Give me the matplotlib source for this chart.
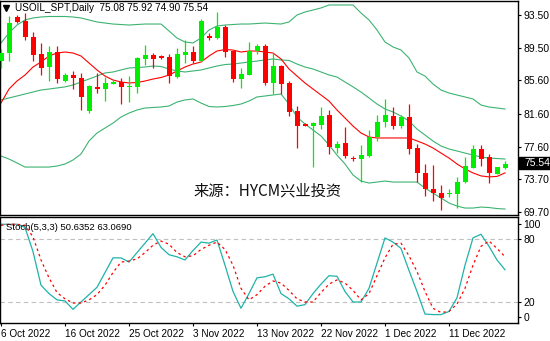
import matplotlib
matplotlib.use("Agg")
import matplotlib.pyplot as plt
import numpy as np
from matplotlib.patches import Rectangle

plt.rcParams['font.family'] = ['Liberation Sans', 'DejaVu Sans']

# 日足ローソク (6 Oct 2022 - 19 Dec 2022)
opens = [87.98, 88.95, 93.30, 92.78, 90.88, 88.79, 87.26, 88.99, 85.53, 86.25,
         85.93, 81.94, 84.84, 84.56, 85.13, 85.44, 84.84, 84.84, 88.19, 88.67,
         88.55, 88.39, 86.05, 88.67, 89.07, 87.98, 91.00, 90.76, 92.09, 89.15,
         85.77, 86.25, 89.15, 89.76, 85.32, 87.38, 85.32, 81.91, 80.34, 80.13,
         80.21, 81.42, 77.47, 78.00, 76.19, 76.07, 76.47, 78.73, 80.54, 81.30,
         80.09, 81.14, 77.47, 74.45, 72.49, 72.04, 71.85, 71.85, 73.37, 75.06,
         77.32, 76.31, 74.30, 75.08]
highs = [89.39, 93.38, 93.50, 93.70, 91.41, 90.12, 89.76, 89.76, 86.46, 86.74,
         86.53, 85.05, 86.53, 86.05, 85.65, 85.93, 86.13, 88.46, 89.88, 88.87,
         88.67, 88.75, 89.55, 90.48, 89.79, 92.98, 91.29, 93.83, 92.29, 89.27,
         87.06, 90.20, 89.96, 89.96, 88.87, 87.50, 85.53, 82.51, 80.40, 80.61,
         82.43, 82.03, 78.28, 80.01, 76.47, 77.80, 79.61, 81.42, 83.36, 82.35,
         81.40, 82.75, 77.92, 75.47, 75.38, 72.97, 72.45, 73.97, 76.39, 77.80,
         77.80, 76.68, 75.18, 75.92]
lows = [87.10, 87.98, 92.53, 90.48, 87.94, 86.25, 85.57, 85.25, 85.44, 84.56,
        82.03, 81.70, 84.12, 83.15, 85.13, 82.71, 83.03, 84.12, 87.46, 87.14,
        88.22, 85.32, 85.86, 87.67, 87.74, 87.79, 90.48, 90.60, 88.46, 85.44,
        84.65, 86.25, 88.75, 85.05, 83.96, 83.96, 81.34, 77.47, 80.10, 75.18,
        79.73, 76.71, 76.87, 76.19, 75.87, 73.37, 76.40, 78.32, 79.94, 79.69,
        79.89, 76.71, 73.37, 71.64, 71.04, 69.95, 71.56, 70.15, 73.17, 75.00,
        75.30, 73.25, 74.30, 74.90]
closes = [88.95, 92.50, 92.69, 90.81, 88.67, 87.14, 89.07, 85.77, 86.25, 85.93,
          83.63, 84.93, 84.56, 85.32, 85.44, 84.84, 84.96, 88.34, 88.67, 88.19,
          88.34, 86.17, 88.79, 88.99, 87.94, 92.78, 90.69, 92.09, 89.07, 85.77,
          86.37, 89.15, 89.76, 85.32, 87.38, 85.17, 81.82, 80.09, 80.13, 80.42,
          81.30, 77.52, 77.92, 76.47, 76.07, 76.59, 78.73, 80.54, 81.42, 80.13,
          81.22, 77.32, 74.45, 72.49, 71.97, 71.36, 71.97, 73.37, 75.26, 77.32,
          76.11, 74.45, 75.18, 75.54]

# ボリンジャーバンド・移動平均
bb_upper = [90.12, 91.33, 92.29, 92.90, 93.14, 93.26, 93.32, 93.32, 93.32, 93.26,
            93.14, 92.90, 92.66, 92.53, 92.41, 92.35, 92.29, 92.35, 92.41, 92.41,
            92.41, 91.57, 90.72, 90.24, 90.12, 90.72, 91.69, 92.17, 92.29, 92.35,
            92.41, 92.41, 92.47, 92.53, 92.47, 92.41, 92.66, 93.50, 93.86, 94.10,
            94.35, 94.71, 94.71, 94.71, 94.71, 93.74, 92.90, 91.69, 90.24, 89.64,
            89.27, 88.31, 86.62, 86.13, 85.17, 84.44, 84.08, 83.84, 83.60, 83.36,
            82.63, 82.39, 82.27, 82.15]
bb_mid = [83.24, 83.48, 83.72, 83.96, 84.20, 84.44, 84.56, 84.69, 84.82, 85.05,
          85.41, 85.77, 86.13, 86.50, 86.62, 86.86, 87.10, 87.16, 87.22, 87.34,
          87.28, 86.98, 86.74, 86.62, 86.74, 86.86, 87.10, 87.34, 87.52, 87.58,
          87.70, 87.82, 87.94, 88.07, 88.19, 88.07, 88.01, 87.58, 87.22, 86.98,
          86.62, 86.26, 86.01, 85.41, 84.82, 84.20, 83.48, 82.75, 82.15, 81.79,
          81.30, 80.70, 79.73, 79.01, 78.28, 77.68, 77.32, 77.08, 76.83, 76.59,
          76.35, 76.23, 76.17, 76.11]
bb_lower = [76.47, 76.11, 75.63, 75.14, 75.14, 75.14, 75.14, 75.26, 75.51, 75.99,
            76.71, 78.28, 79.25, 79.85, 80.45, 81.18, 81.66, 82.03, 82.27, 82.33,
            82.39, 82.51, 82.99, 83.24, 83.36, 82.87, 82.45, 82.39, 82.45, 82.57,
            82.75, 83.11, 83.60, 83.72, 83.84, 83.96, 82.75, 81.18, 80.34, 79.61,
            78.89, 77.80, 76.59, 75.51, 74.18, 73.45, 73.21, 73.33, 73.45, 73.33,
            73.33, 73.33, 73.33, 72.61, 72.00, 71.40, 70.80, 70.43, 70.19, 70.19,
            70.31, 70.25, 70.13, 70.07]
ma_red = [82.87, 84.56, 85.53, 86.25, 87.22, 87.82, 88.55, 88.91, 89.03, 88.91,
          88.55, 87.70, 86.86, 86.13, 85.65, 85.41, 85.29, 85.35, 85.53, 85.77,
          85.95, 86.25, 86.74, 87.22, 87.58, 87.82, 88.55, 89.15, 89.33, 89.27,
          89.03, 89.15, 89.15, 89.03, 88.91, 88.19, 86.98, 86.13, 85.29, 84.56,
          83.84, 83.11, 82.03, 81.06, 80.09, 79.25, 78.77, 78.65, 78.65, 78.65,
          78.65, 78.65, 78.30, 77.92, 77.44, 76.83, 76.23, 75.51, 74.91, 74.43,
          74.07, 73.95, 74.01, 74.43]

# ストキャスティクス(5,3,3)
stoch_k = [94, 94, 94, 91, 68, 36, 28, 22, 21, 13,
           20, 27, 34, 48, 62, 62, 58, 67, 76, 85,
           72, 65, 63, 60, 69, 77, 76, 79, 55, 30,
           14, 28, 43, 44, 46.5, 28, 23, 16, 17.5, 28,
           37, 45, 44.5, 30, 20, 20, 33, 57, 81, 77,
           71, 50, 30, 8.5, 8, 8, 11, 24, 55, 81,
           84.5, 73, 60, 50.64]
stoch_d = [93, 94, 94, 93, 82, 60, 43, 29, 23, 19,
           19, 22, 27, 36, 48, 58, 59, 61, 67, 74,
           78, 75, 67, 63, 64, 70, 74, 77, 70, 55,
           33, 22, 27, 35, 40, 38, 31, 23, 20, 20,
           29, 37, 41, 38, 31, 22, 28, 45, 62, 75,
           76, 64, 49, 30, 14, 10, 11, 18, 33, 55,
           73, 78, 71, 63.07]

date_labels = ['6 Oct 2022', '16 Oct 2022', '25 Oct 2022', '3 Nov 2022',
               '13 Nov 2022', '22 Nov 2022', '1 Dec 2022', '11 Dec 2022']
price_ticks = [93.50, 89.50, 85.60, 81.60, 77.60, 73.70, 69.70]

W, H = 550, 341
fig = plt.figure(figsize=(W / 100, H / 100), dpi=100)


# ピクセル指定で軸を作る
def px_axes(x0, y0, x1, y1):
    return fig.add_axes([x0 / W, 1 - y1 / H, (x1 - x0) / W, (y1 - y0) / H])


ax = px_axes(0, 1, 518, 215)
st = px_axes(0, 217, 518, 323)

GREEN = '#00EE00'
RED = '#FF0000'

x = np.arange(len(opens))
o = np.array(opens)
c = np.array(closes)
col = np.where(c >= o, GREEN, RED)

# ローソク足
ax.vlines(x, lows, highs, colors=col, lw=0.9, zorder=3)
body_lo = np.minimum(o, c)
body_h = np.maximum(np.abs(c - o), 0.13)
ax.bar(x, body_h, 0.625, bottom=body_lo, color=col, linewidth=0, zorder=3)

# バンドとMA
for band in (bb_upper, bb_mid, bb_lower):
    ax.plot(x, band, color='#3CB371', lw=0.8, zorder=2)
ax.plot(x, ma_red, color=RED, lw=0.8, zorder=2)

ax.set_xlim(-0.125, 64.625)
ax.set_ylim(69.35, 95.19)
ax.set_xticks([])
ax.set_yticks(price_ticks)
ax.set_yticklabels(['%.2f' % v for v in price_ticks])
ax.tick_params(axis='y', left=False, labelleft=False, right=True, labelright=True,
               direction='out', length=2.5, width=0.8, pad=1.5, labelsize=7.5)

ax.plot([0.6], [94.35], marker='v', color='black', markersize=4.5, clip_on=False)
ax.text(15 / 518, 1 - 7 / 214, 'USOIL_SPT,Daily  75.08 75.92 74.90 75.54',
        transform=ax.transAxes, fontsize=7.2, va='center', ha='left')
ax.text(193 / 518, 1 - 190 / 214, '来源：HYCM兴业投资', transform=ax.transAxes,
        fontsize=11, va='center', ha='left', color='#111111',
        family=['Noto Sans CJK SC', 'DejaVu Sans'])

# 現在値ボックス
fig.add_artist(Rectangle((519 / W, 1 - 169 / H), 31 / W, 12 / H,
                         color='black', transform=fig.transFigure))
fig.text(537 / W, 1 - 163 / H, '75.54', color='white', ha='center', va='center',
         fontsize=7.5)

# ストキャス
st.axhline(80, color='#C0C0C0', lw=0.8, ls=(0, (4, 3)))
st.axhline(20, color='#C0C0C0', lw=0.8, ls=(0, (4, 3)))
st.plot(x, stoch_k, color='#20B2AA', lw=0.9)
st.plot(x, stoch_d, color=RED, lw=0.9, ls=(0, (2, 2.5)))
st.set_xlim(-0.125, 64.625)
st.set_ylim(0, 100.9)
st.set_yticks([6.1, 20, 80, 94.2])
st.set_yticklabels(['0', '20', '80', '100'])
st.tick_params(axis='y', left=False, labelleft=False, right=True, labelright=True,
               direction='out', length=2.5, width=0.8, pad=1.5, labelsize=7.5)
st.set_xticks(np.arange(0, 64, 8))
st.set_xticklabels(date_labels, ha='left')
st.tick_params(axis='x', direction='out', length=2.5, width=0.8, pad=1.5,
               labelsize=7.2)
st.text(6 / 518, 1 - 10 / 106, 'Stoch(5,3,3) 50.6352 63.0690',
        transform=st.transAxes, fontsize=6.8, va='center', ha='left')

for a in (ax, st):
    for s in a.spines.values():
        s.set_color('black')
        s.set_linewidth(1.0)

fig.savefig('out.png', dpi=100)
